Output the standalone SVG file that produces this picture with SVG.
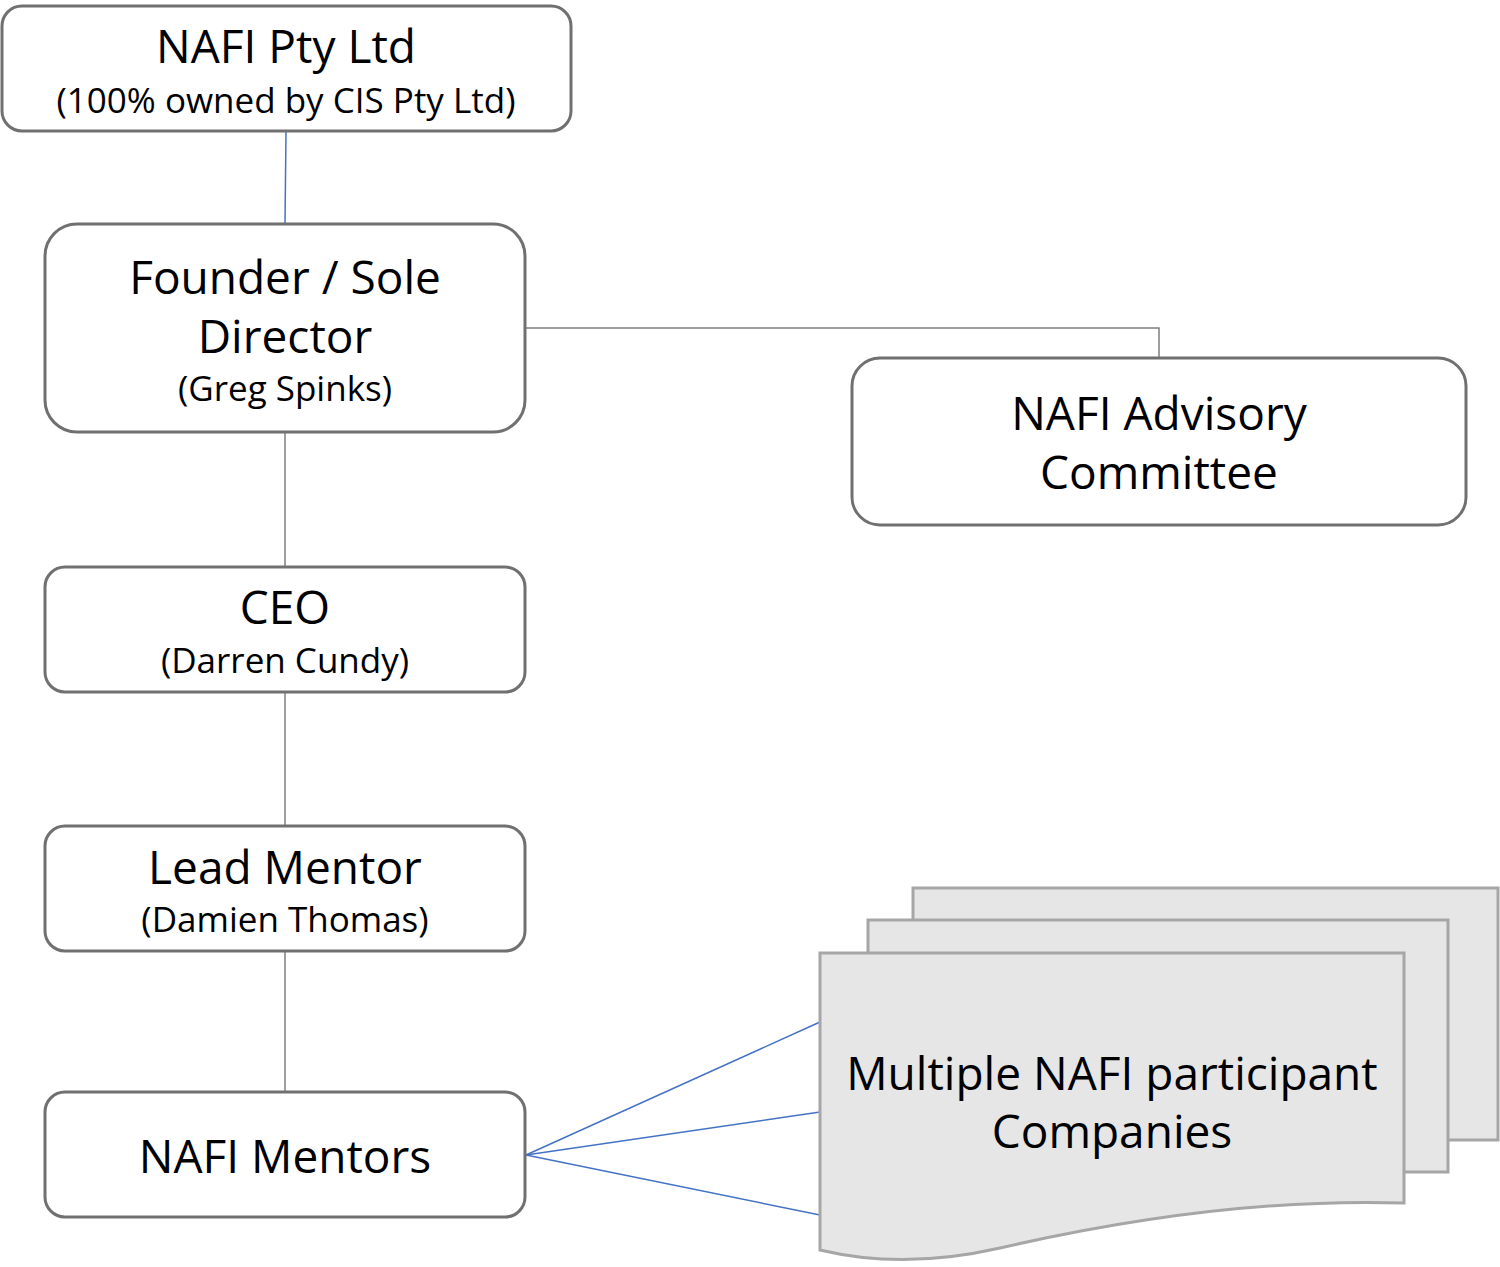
<svg xmlns="http://www.w3.org/2000/svg" width="1500" height="1267" viewBox="0 0 1500 1267">
<style>
.box{fill:#fff;stroke:#707070;stroke-width:3}
.doc{fill:#e6e6e6;stroke:#a6a6a6;stroke-width:3}
text{font-family:"Open Sans","Noto Sans",sans-serif;fill:#000;text-anchor:middle}
.big{font-size:46px}
.small{font-size:35px}
.g{stroke:#7f7f7f;stroke-width:1.5;fill:none}
.b{stroke:#4472c4;stroke-width:1.5;fill:none}
</style>
<rect width="1500" height="1267" fill="#fff"/>
<g id="connectors">
<line class="b" x1="286" y1="131" x2="285" y2="224"/>
<line class="g" x1="285" y1="432" x2="285" y2="567"/>
<line class="g" x1="285" y1="692" x2="285" y2="826"/>
<line class="g" x1="285" y1="951" x2="285" y2="1092"/>
<polyline class="g" points="525,328 1159,328 1159,358"/>
<line class="b" x1="526" y1="1155" x2="820" y2="1022"/>
<line class="b" x1="526" y1="1155" x2="820" y2="1112"/>
<line class="b" x1="526" y1="1155" x2="820" y2="1215"/>
</g>
<g id="nafi">
<rect class="box" x="2" y="6" width="569" height="125" rx="20"/>
<text class="big" x="286" y="63">NAFI Pty Ltd</text>
<text class="small" x="286" y="113">(100% owned by CIS Pty Ltd)</text>
</g>
<g id="founder">
<rect class="box" x="45" y="224" width="480" height="208" rx="32"/>
<text class="big" x="285" y="294">Founder / Sole</text>
<text class="big" x="285" y="353">Director</text>
<text class="small" x="285" y="401">(Greg Spinks)</text>
</g>
<g id="advisory">
<rect class="box" x="852" y="358" width="614" height="167" rx="28"/>
<text class="big" x="1159" y="430">NAFI Advisory</text>
<text class="big" x="1159" y="489">Committee</text>
</g>
<g id="ceo">
<rect class="box" x="45" y="567" width="480" height="125" rx="20"/>
<text class="big" x="285" y="624">CEO</text>
<text class="small" x="285" y="673">(Darren Cundy)</text>
</g>
<g id="lead">
<rect class="box" x="45" y="826" width="480" height="125" rx="20"/>
<text class="big" x="285" y="884">Lead Mentor</text>
<text class="small" x="285" y="932">(Damien Thomas)</text>
</g>
<g id="mentors">
<rect class="box" x="45" y="1092" width="480" height="125" rx="20"/>
<text class="big" x="285" y="1173">NAFI Mentors</text>
</g>
<g id="companies">
<rect class="doc" x="913" y="888" width="585" height="252"/>
<rect class="doc" x="868" y="920" width="580" height="252"/>
<path class="doc" d="M820,953 H1404 V1203 C1250,1198 1100,1225 1000,1248 C930,1264 870,1262 820,1250 Z"/>
<text class="big" x="1112" y="1090">Multiple NAFI participant</text>
<text class="big" x="1112" y="1148">Companies</text>
</g>
</svg>
